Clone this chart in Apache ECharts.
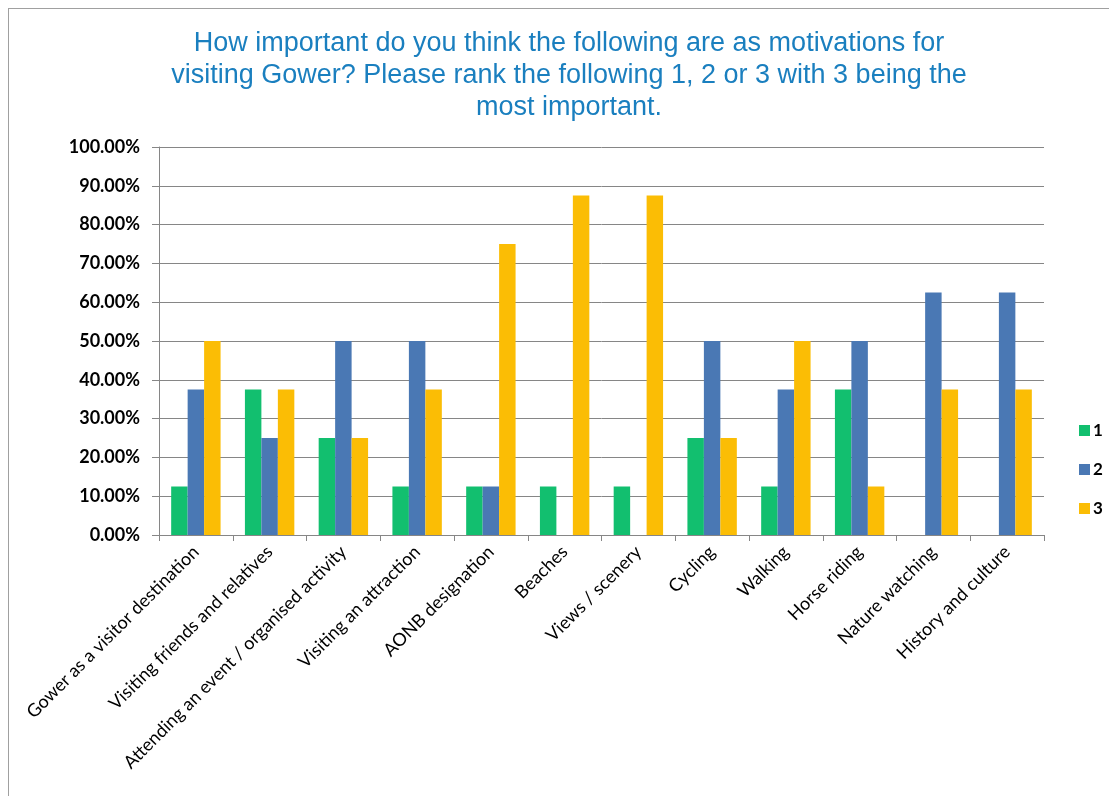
<!DOCTYPE html>
<html><head><meta charset="utf-8">
<script src="https://cdn.jsdelivr.net/npm/echarts@6/dist/echarts.min.js"></script>
<style>
html,body{margin:0;padding:0;background:#fff;}
#frame{position:absolute;left:8px;top:8px;width:1120px;height:800px;border:1px solid #a0a0a0;box-sizing:border-box;}
#c{position:absolute;left:0;top:0;width:1109px;height:796px;}
</style></head>
<body>
<div id="frame"></div>
<div id="c"></div>
<script>
const titleText = "How important do you think the following are as motivations for\nvisiting Gower? Please rank the following 1, 2 or 3 with 3 being the\nmost important.";
const categories = ["Gower as a visitor destination","Visiting friends and relatives","Attending an event / organised activity","Visiting an attraction","AONB designation","Beaches","Views / scenery","Cycling","Walking","Horse riding","Nature watching","History and culture"];
const seriesNames = ["1","2","3"];
const rank1 = [12.5,37.5,25,12.5,12.5,12.5,12.5,25,12.5,37.5,0,0];
const rank2 = [37.5,25,50,50,12.5,0,0,50,37.5,50,62.5,62.5];
const rank3 = [50,37.5,25,37.5,75,87.5,87.5,25,50,12.5,37.5,37.5];
const colors = ["#12bf6f","#4a78b4","#fbbd05"];

const chart = echarts.init(document.getElementById('c'));
const vals=[rank1,rank2,rank3];
chart.setOption({
  animation:false,
  title:{text:titleText,left:564,top:23,textAlign:'center',
    textStyle:{fontFamily:'Liberation Sans',fontWeight:'normal',fontSize:27,color:'#1a7fbf',lineHeight:32}},
  legend:{orient:'vertical',left:1074,top:417,itemWidth:11,itemHeight:11,itemGap:22,
    icon:'rect',textStyle:{fontFamily:'Lato',fontWeight:'bold',fontSize:17,color:'#000',padding:[0,0,0,-2]}},
  grid:{left:159,right:65,top:147,bottom:261,containLabel:false},
  xAxis:{type:'category',data:categories,
    axisLine:{lineStyle:{color:'#868686'}},
    axisTick:{show:true,alignWithLabel:false,length:6,lineStyle:{color:'#868686'}},
    axisLabel:{rotate:45,interval:0,fontFamily:'Lato',fontSize:18,color:'#000',margin:14}},
  yAxis:{type:'value',min:0,max:100,interval:10,
    axisLine:{show:true,lineStyle:{color:'#868686'}},
    axisTick:{show:true,length:7,lineStyle:{color:'#868686'}},
    splitLine:{lineStyle:{color:'#868686'}},
    axisLabel:{formatter:v=>v.toFixed(2)+'%',fontFamily:'Lato',fontWeight:'bold',fontSize:18,color:'#000',margin:19}},
  series:seriesNames.map((n,i)=>({name:n,type:'bar',data:vals[i],barGap:'0%',barCategoryGap:'33%',
    itemStyle:{color:colors[i]}}))
});
</script>
</body></html>
